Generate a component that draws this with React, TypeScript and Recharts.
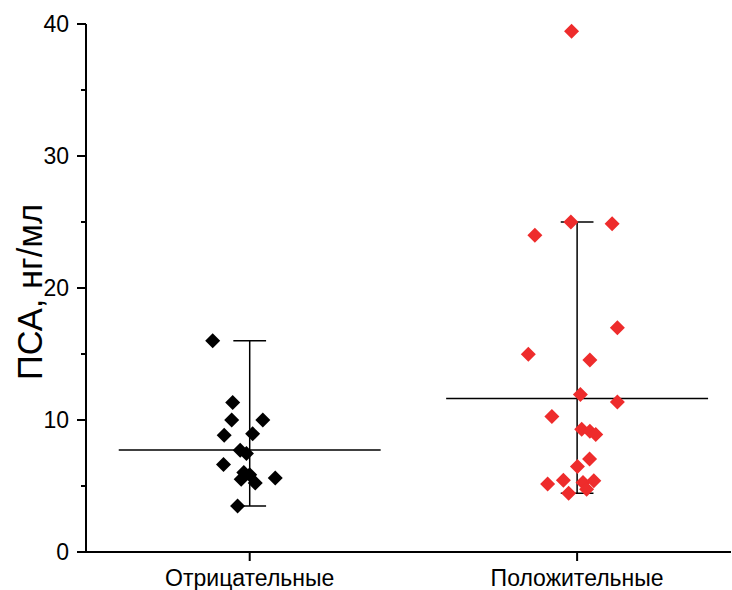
import React from "react";
import {
  ComposedChart,
  Scatter,
  XAxis,
  YAxis,
  ReferenceLine,
  Label,
} from "recharts";

const categories = ["Отрицательные", "Положительные"];
const yTicks = [0, 5, 10, 15, 20, 25, 30, 35, 40];

// PSA values per group, with the horizontal jitter (in category units)
const negValues = [16.0, 11.33, 10.0, 10.0, 8.85, 8.95, 7.7, 7.47, 6.62, 6.02, 5.52, 5.85, 5.22, 5.6, 3.49];
const negJitter = [-0.113, -0.052, -0.055, 0.04, -0.078, 0.009, -0.029, -0.01, -0.08, -0.018, -0.026, 0.0, 0.017, 0.078, -0.037];

const posValues = [39.45, 25.0, 24.87, 24.0, 16.98, 14.98, 14.55, 11.93, 11.36, 10.26, 9.3, 9.15, 8.9, 7.05, 6.47, 5.16, 5.44, 5.26, 5.4, 4.76, 4.45];
const posJitter = [-0.017, -0.019, 0.107, -0.129, 0.123, -0.149, 0.039, 0.01, 0.123, -0.077, 0.014, 0.039, 0.057, 0.038, 0.001, -0.09, -0.042, 0.018, 0.051, 0.029, -0.026];

// median and range (min..max) per group
const medians = [7.72, 11.63];
const rangeMin = [3.49, 4.45];
const rangeMax = [16.0, 25.0];

const negData = negValues.map((v, i) => ({ x: 1 + negJitter[i], y: v }));
const posData = posValues.map((v, i) => ({ x: 2 + posJitter[i], y: v }));

const FONT = "'Liberation Sans', Arial, sans-serif";

const diamond = (fill: string) => (props: any) => {
  const { cx, cy } = props;
  const r = 7.5;
  return (
    <path
      d={`M${cx},${cy - r}L${cx + r},${cy}L${cx},${cy + r}L${cx - r},${cy}Z`}
      fill={fill}
    />
  );
};

const YTick = (props: any) => {
  const { x, y, payload } = props;
  const major = payload.value % 10 === 0;
  return (
    <g>
      <line x1={x} x2={x - (major ? 9 : 5)} y1={y} y2={y} stroke="#000" strokeWidth={2} />
      {major && (
        <text x={x - 17} y={y} dy="0.36em" textAnchor="end" fontSize={23} fontFamily={FONT} fill="#000">
          {payload.value}
        </text>
      )}
    </g>
  );
};

const XTick = (props: any) => {
  const { x, y, payload } = props;
  return (
    <g>
      <line x1={x} x2={x} y1={y} y2={y + 9} stroke="#000" strokeWidth={2} />
      <text x={x} y={y + 34} textAnchor="middle" fontSize={23} fontFamily={FONT} fill="#000">
        {categories[payload.value - 1]}
      </text>
    </g>
  );
};

export default function App() {
  const lineProps = { stroke: "#000", strokeWidth: 1.5, ifOverflow: "visible" as const };
  return (
    <div style={{ position: "absolute", left: 0, top: 0, background: "#fff" }}>
      <ComposedChart width={732} height={590} margin={{ top: 24, right: 1, bottom: 0, left: 0 }}>
        <XAxis
          type="number"
          dataKey="x"
          domain={[0.5, 2.47]}
          ticks={[1, 2]}
          allowDataOverflow
          axisLine={{ stroke: "#000", strokeWidth: 2 }}
          tickLine={false}
          tickSize={0}
          tickMargin={0}
          tick={<XTick />}
          height={38}
        />
        <YAxis
          type="number"
          dataKey="y"
          domain={[0, 40]}
          ticks={yTicks}
          axisLine={{ stroke: "#000", strokeWidth: 2 }}
          tickLine={false}
          tickSize={0}
          tickMargin={0}
          tick={<YTick />}
          width={86}
        >
          <Label
            content={(p: any) => {
              const vb = p.viewBox || { x: 0, y: 0, height: 0 };
              const cy = vb.y + vb.height / 2 + 4;
              return (
                <text
                  x={30}
                  y={cy}
                  transform={`rotate(-90, 30, ${cy})`}
                  textAnchor="middle"
                  dy="0.36em"
                  fontSize={34.5}
                  fontFamily={FONT}
                  fill="#000"
                >
                  ПСА, нг/мл
                </text>
              );
            }}
          />
        </YAxis>
        {medians.map((m, i) => (
          <ReferenceLine
            key={`med${i}`}
            segment={[{ x: i + 1 - 0.4, y: m }, { x: i + 1 + 0.4, y: m }]}
            {...lineProps}
          />
        ))}
        {rangeMin.map((lo, i) => (
          <ReferenceLine
            key={`rng${i}`}
            segment={[{ x: i + 1, y: lo }, { x: i + 1, y: rangeMax[i] }]}
            {...lineProps}
          />
        ))}
        {rangeMin.map((lo, i) => (
          <ReferenceLine
            key={`capLo${i}`}
            segment={[{ x: i + 1 - 0.05, y: lo }, { x: i + 1 + 0.05, y: lo }]}
            {...lineProps}
          />
        ))}
        {rangeMax.map((hi, i) => (
          <ReferenceLine
            key={`capHi${i}`}
            segment={[{ x: i + 1 - 0.05, y: hi }, { x: i + 1 + 0.05, y: hi }]}
            {...lineProps}
          />
        ))}
        <Scatter data={negData} shape={diamond("#000000")} isAnimationActive={false} />
        <Scatter data={posData} shape={diamond("#ee2c2c")} isAnimationActive={false} />
      </ComposedChart>
    </div>
  );
}
